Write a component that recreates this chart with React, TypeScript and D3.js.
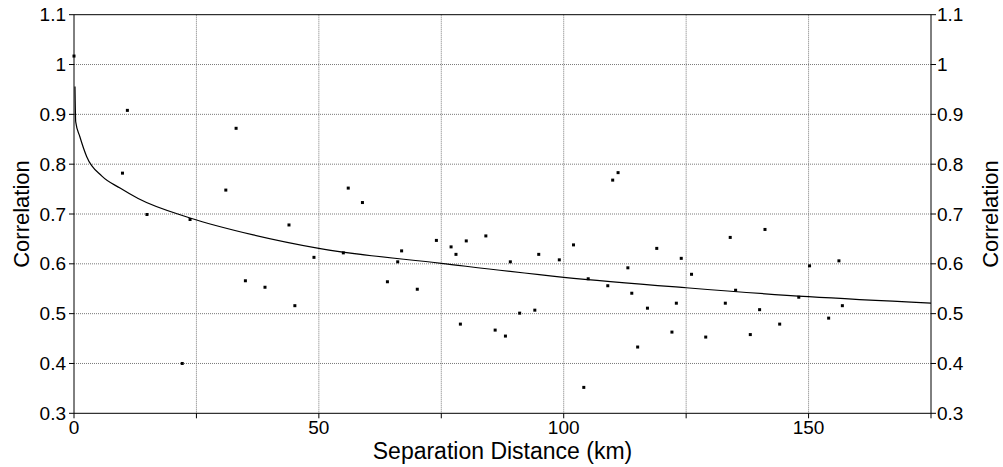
import * as d3 from 'd3';
import React from 'react';

// scatter points
const sepKm = [
  0.0, 10.9, 33.1, 9.9, 31.0, 14.9, 23.7, 56.0, 58.9, 43.9, 74.0, 22.1, 35.0, 49.0, 55.0, 39.0,
  45.1, 64.0, 66.9, 66.1, 70.1, 77.0, 78.0, 80.1, 84.1, 89.1, 94.9, 99.1, 102.0, 110.0, 111.1,
  105.0, 109.0, 113.1, 113.9, 117.1, 119.0, 115.1, 78.9, 86.0, 88.1, 91.0, 94.1, 104.1, 124.0,
  126.1, 134.0, 141.1, 150.2, 156.2, 135.1, 148.0, 123.0, 133.0, 140.0, 156.9, 154.1, 144.1,
  122.1, 129.0, 138.1,
];
const corr = [
  1.017, 0.908, 0.872, 0.782, 0.748, 0.699, 0.689, 0.752, 0.723, 0.678, 0.647, 0.4, 0.566, 0.613,
  0.622, 0.553, 0.516, 0.564, 0.626, 0.604, 0.549, 0.634, 0.619, 0.646, 0.656, 0.604, 0.619,
  0.608, 0.638, 0.768, 0.783, 0.57, 0.556, 0.592, 0.541, 0.511, 0.631, 0.433, 0.479, 0.467,
  0.455, 0.501, 0.507, 0.352, 0.611, 0.579, 0.653, 0.669, 0.596, 0.606, 0.547, 0.533, 0.521,
  0.521, 0.508, 0.516, 0.491, 0.479, 0.463, 0.453, 0.458,
];

// fitted trend line
const fitKm = [0.2, 0.35, 1.2, 2.6, 5.7, 9.4, 13.1, 23.7, 36.6, 50, 75, 100, 125, 150, 175];
const fitCorr = [
  0.956, 0.885, 0.855, 0.815, 0.776, 0.752, 0.731, 0.692, 0.658, 0.631, 0.601, 0.573, 0.552,
  0.534, 0.521,
];

const yTicks = [0.3, 0.4, 0.5, 0.6, 0.7, 0.8, 0.9, 1, 1.1];
const xGrid = [25, 50, 75, 100, 125, 150];
const xLabels = [0, 50, 100, 150];

export default function App() {
  const width = 1003;
  const height = 467;
  const left = 74;
  const right = 931;
  const top = 14.7;
  const bottom = 413.3;

  const x = d3.scaleLinear().domain([0, 175]).range([left, right]);
  const y = d3.scaleLinear().domain([0.3, 1.1]).range([bottom, top]);

  const line = d3
    .line<number>()
    .x((d, i) => x(fitKm[i]))
    .y((d) => y(d))
    .curve(d3.curveMonotoneX);

  const font = 'Arial, "Liberation Sans", sans-serif';

  return (
    <svg
      width={width}
      height={height}
      style={{ position: 'absolute', left: 0, top: 0, background: '#fff' }}
    >
      <rect x={0} y={0} width={width} height={height} fill="#fff" />
      {/* grid */}
      {yTicks.slice(1, -1).map((t) => (
        <line
          key={'gy' + t}
          x1={left}
          x2={right}
          y1={y(t)}
          y2={y(t)}
          stroke="#7a7a7a"
          strokeDasharray="1,1"
        />
      ))}
      {xGrid.map((t) => (
        <line
          key={'gx' + t}
          x1={x(t)}
          x2={x(t)}
          y1={top}
          y2={bottom}
          stroke="#7a7a7a"
          strokeDasharray="1,1"
        />
      ))}

      {/* frame */}
      <line x1={left} x2={right} y1={top} y2={top} stroke="#000" />
      <line x1={left} x2={right} y1={bottom} y2={bottom} stroke="#000" />
      <line x1={left} x2={left} y1={top} y2={bottom} stroke="#000" />
      <line x1={right} x2={right} y1={top} y2={bottom} stroke="#000" />

      {/* y ticks, both sides */}
      {yTicks.map((t) => (
        <g key={'yt' + t} fontFamily={font} fontSize={19} fill="#000">
          <line x1={left - 5} x2={left} y1={y(t)} y2={y(t)} stroke="#000" />
          <line x1={right} x2={right + 5} y1={y(t)} y2={y(t)} stroke="#000" />
          <text x={left - 8} y={y(t)} textAnchor="end" dominantBaseline="central">
            {d3.format('')(t)}
          </text>
          <text x={right + 6} y={y(t)} textAnchor="start" dominantBaseline="central">
            {d3.format('')(t)}
          </text>
        </g>
      ))}

      {/* x ticks */}
      {[0, ...xGrid, 175].map((t) => (
        <line key={'xt' + t} x1={x(t)} x2={x(t)} y1={bottom} y2={bottom + 5} stroke="#000" />
      ))}
      {xLabels.map((t) => (
        <text
          key={'xl' + t}
          x={x(t)}
          y={434}
          textAnchor="middle"
          fontFamily={font}
          fontSize={19}
        >
          {t}
        </text>
      ))}

      {/* fit curve */}
      <path d={line(fitCorr) || ''} fill="none" stroke="#000" strokeWidth={1.2} />

      {/* points */}
      {sepKm.map((d, i) => (
        <rect
          key={'p' + i}
          x={x(d) - 1.5}
          y={y(corr[i]) - 1.5}
          width={3}
          height={3}
          fill="#000"
        />
      ))}

      {/* axis titles */}
      <text
        x={(left + right) / 2}
        y={459}
        textAnchor="middle"
        fontFamily={font}
        fontSize={23}
      >
        Separation Distance (km)
      </text>
      <text
        transform={`translate(29,${(top + bottom) / 2}) rotate(-90)`}
        textAnchor="middle"
        fontFamily={font}
        fontSize={22}
      >
        Correlation
      </text>
      <text
        transform={`translate(998,${(top + bottom) / 2}) rotate(-90)`}
        textAnchor="middle"
        fontFamily={font}
        fontSize={22}
      >
        Correlation
      </text>
    </svg>
  );
}
